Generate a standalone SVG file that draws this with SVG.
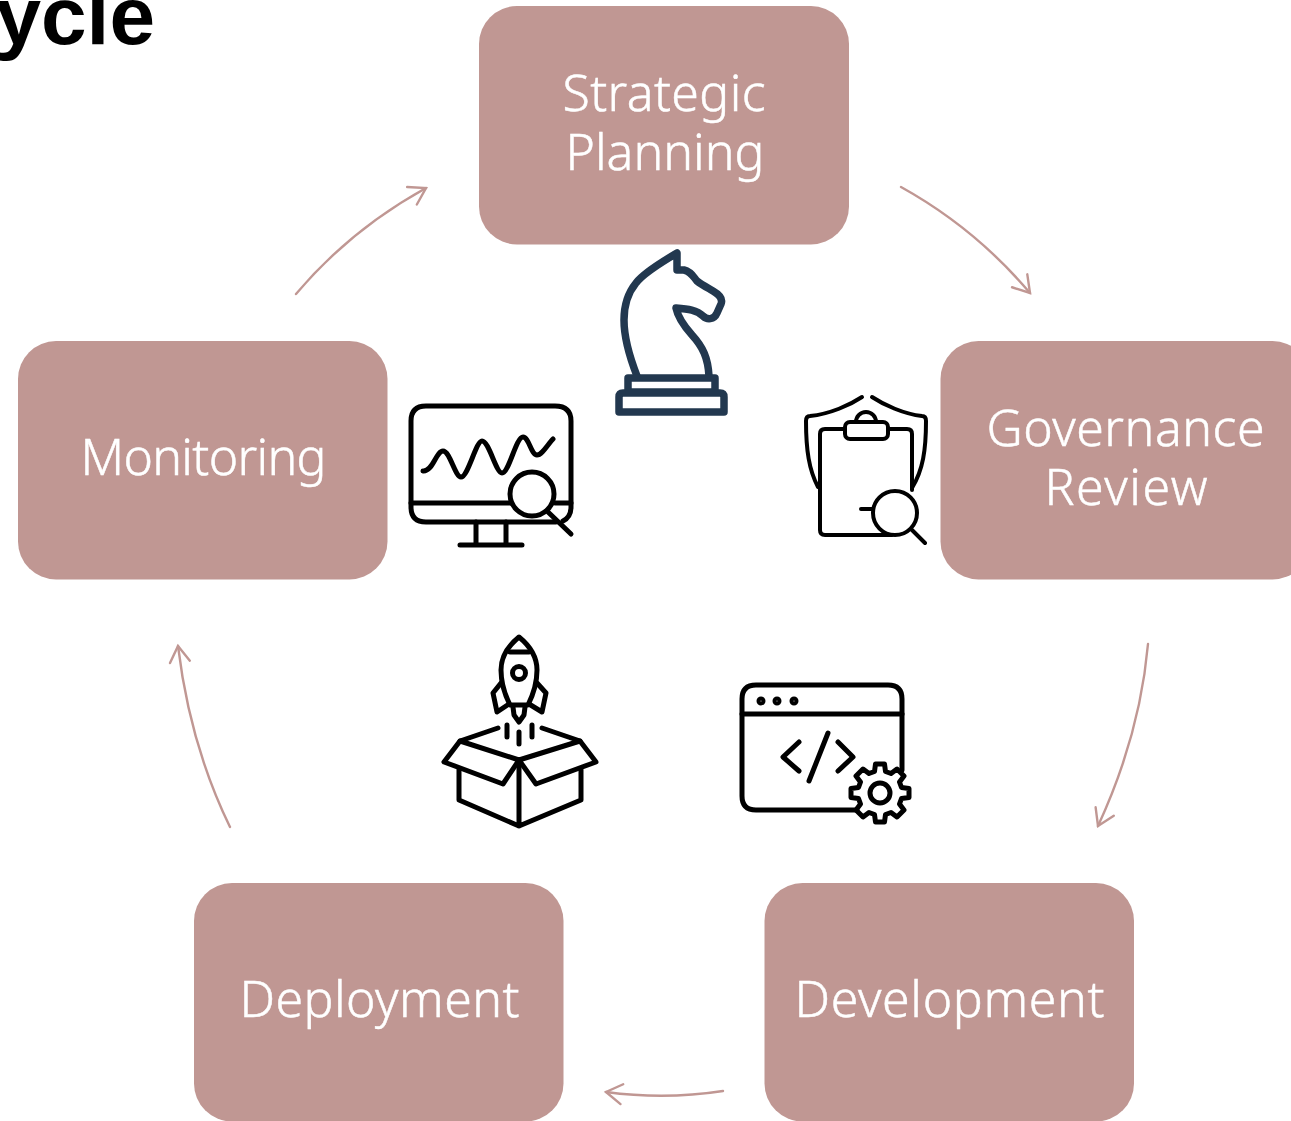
<svg xmlns="http://www.w3.org/2000/svg" width="1291" height="1121" viewBox="0 0 1291 1121">
<style>
.box{fill:#c09793}
.lbl{font-family:"Noto Sans","Liberation Sans",sans-serif;font-size:50px;font-weight:300;fill:#fff;stroke:#fff;stroke-width:.5;text-anchor:middle}
.ttl{font-family:"Liberation Sans",Arial,sans-serif;font-size:82px;font-weight:700;fill:#000;text-anchor:end}
.conn{fill:none;stroke:#c09793;stroke-width:2.4;stroke-linecap:round}
.ic{fill:none;stroke:#000;stroke-width:5;stroke-linecap:round;stroke-linejoin:round}
.kn{fill:none;stroke:#22384f;stroke-width:7.5;stroke-linecap:round;stroke-linejoin:round}
</style>
<defs>
<marker id="ah" markerUnits="userSpaceOnUse" markerWidth="30" markerHeight="30" refX="22" refY="15" orient="auto">
<path d="M6,5 L22,15 L6,25" fill="none" stroke="#c09793" stroke-width="2.4" stroke-linecap="round" stroke-linejoin="miter"/>
</marker>
</defs>
<rect width="1291" height="1121" fill="#fff"/>
<text class="ttl" x="155" y="44">ycle</text>
<g id="connectors">
<path class="conn" marker-end="url(#ah)" d="M901,187 Q975,228 1030,293"/>
<path class="conn" marker-end="url(#ah)" d="M1148,644 Q1140,735 1098,826"/>
<path class="conn" marker-end="url(#ah)" d="M723,1091 Q665,1100 606,1092"/>
<path class="conn" marker-end="url(#ah)" d="M230,827 Q190,745 178,646"/>
<path class="conn" marker-end="url(#ah)" d="M296,294 Q350,230 426,188"/>
</g>
<g id="strategic-planning">
<rect class="box" x="479" y="6" width="370" height="238.500" rx="38"/>
<text class="lbl" x="664" y="111" textLength="203">Strategic</text>
<text class="lbl" x="665" y="170" textLength="199">Planning</text>
</g>
<g id="governance-review">
<rect class="box" x="940.500" y="341" width="370" height="238.500" rx="38"/>
<text class="lbl" x="1125.500" y="446" textLength="278">Governance</text>
<text class="lbl" x="1126" y="505" textLength="163">Review</text>
</g>
<g id="development">
<rect class="box" x="764.500" y="883" width="369.500" height="238.500" rx="38"/>
<text class="lbl" x="949.500" y="1017" textLength="310">Development</text>
</g>
<g id="deployment">
<rect class="box" x="194" y="883" width="369.500" height="238.500" rx="38"/>
<text class="lbl" x="379.500" y="1017" textLength="280">Deployment</text>
</g>
<g id="monitoring">
<rect class="box" x="18" y="341" width="369.500" height="238.500" rx="38"/>
<text class="lbl" x="203.500" y="475" textLength="246">Monitoring</text>
</g>
<g id="icon-knight" class="kn">
<path d="M637,376 C630,358 624,340 624,320 C624,305 627,294 636,283 C642,275 660,263 677,253 L677,270 L684,270 C692,272 694,278 697,281 C702,285 708,288 713,291 C720,295 723,299 721,304 L717,313 C714,320 707,320 703,316 C697,310 688,309 676,308 C678,318 684,326 692,335 C703,347 708,358 709,376"/>
<path d="M628,378 H715 V392 H628 Z"/>
<path d="M623,393 H720 Q724,393 724,397 V412 H619 V397 Q619,393 623,393 Z"/>
</g>
<g id="icon-clipboard" class="ic" style="stroke-width:4">
<path d="M862,397 C850,405 830,414 810,416 Q806,416 806,421 C806,450 809,470 818,487"/>
<path d="M872,397 C884,405 904,414 922,416 Q926,416 926,421 C926,450 923,470 912,488"/>
<path d="M845,429 H825 Q820,429 820,434 V530 Q820,535 825,535 H892"/>
<path d="M888,429 H907 Q912,429 912,434 V490"/>
<rect x="845" y="422" width="43" height="17" rx="5"/>
<path d="M856,422 A10,10 0 0 1 876,422"/>
<circle cx="895" cy="513" r="22"/>
<path d="M912,530 L925,543 M861,509 H873"/>
</g>
<g id="icon-monitor" class="ic">
<path d="M556,522 H426 Q411,522 411,507 V421 Q411,406 426,406 H555 Q571,406 571,421 V507 Q571,517 563,521"/>
<path d="M411,503 H511 M555,503 H571"/>
<path d="M476,522 V545 M506,522 V545 M460,545 H522"/>
<path d="M423,471 C433,472 436,451 443,451 C450,451 455,477 461,477 C468,477 476,441 482,441 C489,441 496,473 502,473 C509,473 516,437 523,437 C529,437 531,455 537,455 C542,455 548,444 553,439"/>
<circle cx="532" cy="494" r="22"/>
<path d="M548,512 L571,534"/>
</g>
<g id="icon-rocket" class="ic">
<path d="M519,637 C508,646 501,658 501,670 C501,682 505,695 510,705 H528 C533,695 537,682 537,670 C537,658 530,646 519,637 Z"/>
<path d="M510,652 H529"/>
<circle cx="519" cy="673" r="6.500"/>
<path d="M501,683 L493,693 L497,712 L509,704 M537,683 L546,693 L542,712 L529,704"/>
<path d="M513,707 L514,715 L519,722 L524,715 L525,707"/>
<path d="M507,725 V737 M519,732 V744 M532,725 V737"/>
<path d="M498,728 L460,741 L444,762 L503,784 L519,760 L536,784 L596,762 L580,741 L542,728"/>
<path d="M460,741 L519,760 L580,741"/>
<path d="M459,770 V800 L519,826 L581,800 V770 M519,760 V826"/>
</g>
<g id="icon-code" class="ic">
<path d="M857,810 H756 Q742,810 742,796 V699 Q742,685 756,685 H888 Q902,685 902,699 V770"/>
<path d="M742,714 H902"/>
<circle cx="761" cy="701" r="2"/><circle cx="777" cy="701" r="2"/><circle cx="794" cy="701" r="2"/>
<path d="M799,742 L783,757 L799,771 M838,742 L853,757 L838,771 M828,733 L809,781"/>
<path d="M874.500,771.500 L875.500,764 H884.500 L885.500,771.500 L891,773.500 L897,769 L904,776 L899.500,782 L901.500,787.500 L909,788.500 V797.500 L901.500,798.500 L899.500,804 L904,810 L897,817 L891,812.500 L885.500,814.500 L884.500,822 H875.500 L874.500,814.500 L869,812.500 L863,817 L856,810 L860.500,804 L858.500,798.500 L851,797.500 V788.500 L858.500,787.500 L860.500,782 L856,776 L863,769 L869,773.500 Z"/>
<circle cx="880" cy="793" r="10"/>
</g>
</svg>
